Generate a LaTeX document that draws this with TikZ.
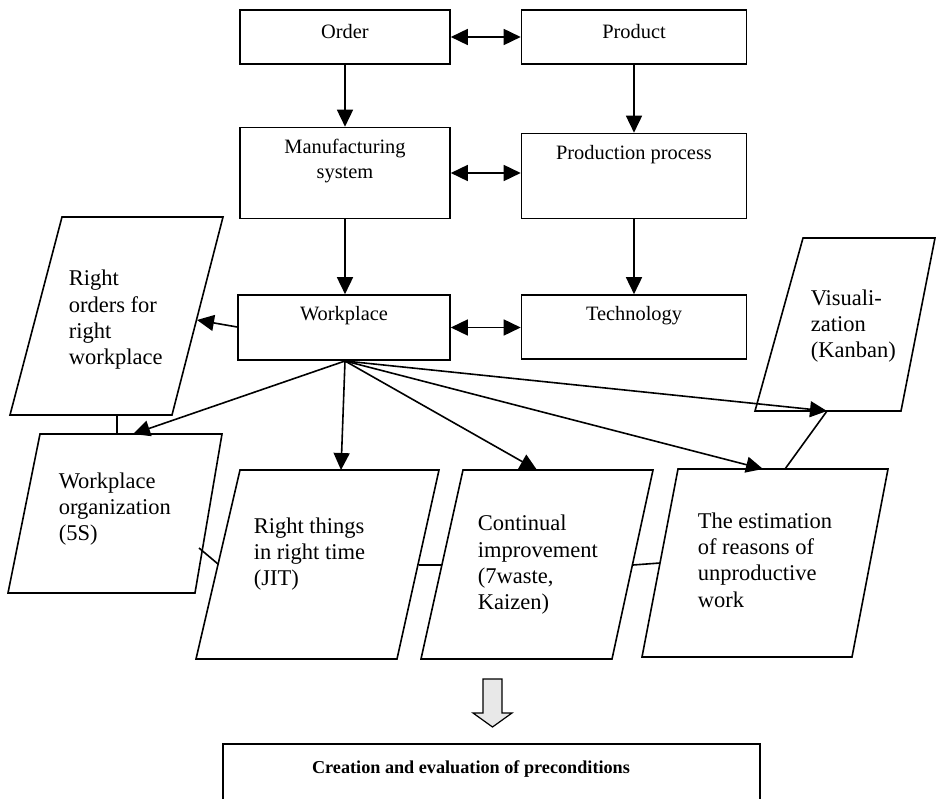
\documentclass[tikz,border=0pt]{standalone}
\usepackage{fontspec}
\setmainfont{Liberation Serif}
\usetikzlibrary{arrows.meta}
\newcommand\bxfont{\fontsize{20.4}{24.5}\selectfont}
\newcommand\pgfont{\fontsize{22.5}{26.3}\selectfont}
\newcommand\btfont{\fontsize{18.2}{22}\selectfont\bfseries}
\begin{document}
\begin{tikzpicture}[x=1pt,y=-1pt,
  line width=1.6pt,
  >={Triangle[length=17pt,width=16pt]},
  box/.style={draw, rectangle, inner sep=0pt},
  boxtxt/.style={inner sep=0pt, align=center, font=\bxfont},
  pgtxt/.style={inner sep=0pt, align=left, anchor=west, font=\pgfont},
  para/.style={draw, fill=white, line join=miter},
  link/.style={line width=1.6pt},
  arr/.style={->, line width=1.6pt}
]
\useasboundingbox (0,0) rectangle (936,799);
\clip (0,0) rectangle (936,799);

% ---- rectangle boxes
\node[box, minimum width=210pt, minimum height=54pt] (order) at (345,37) {};
\node[box, minimum width=225pt, minimum height=54pt] (product) at (634,37) {};
\node[box, minimum width=210pt, minimum height=91pt] (manuf) at (345,173) {};
\node[box, minimum width=225pt, minimum height=85pt] (prod) at (634,176) {};
\node[box, minimum width=212pt, minimum height=65pt] (work) at (344,327.5) {};
\node[box, minimum width=225pt, minimum height=64pt] (tech) at (634,327) {};

\node[boxtxt] (order-t) at (345,32) {Order};
\node[boxtxt] (product-t) at (634,32) {Product};
\node[boxtxt] (manuf-t) at (345,161) {Manufacturing\\system};
\node[boxtxt] (prod-t) at (634,155) {Production process};
\node[boxtxt] (work-t) at (344,316) {Workplace};
\node[boxtxt] (tech-t) at (634,316) {Technology};

% ---- arrows between boxes
\draw[arr, <->] (order.east) -- (order.east -| product.west);
\draw[arr, <->] (manuf.east) -- (manuf.east -| prod.west);
\draw[arr, <->] (work.east) -- (work.east -| tech.west);
\draw[arr] (order.south) -- (manuf.north);
\draw[arr] (product.south) -- (prod.north);
\draw[arr] (manuf.south) -- (manuf.south |- work.north);
\draw[arr] (prod.south) -- (tech.north);

% ---- parallelograms
\draw[para] (62,217) -- (223,217) -- (172,415) -- (10,415) -- cycle;
\draw[para] (40,434) -- (222,434) -- (195,593) -- (8,593) -- cycle;
\draw[para] (240,470) -- (439,470) -- (397,659) -- (196,659) -- cycle;
\draw[para] (463,470) -- (653,470) -- (612,659) -- (421,659) -- cycle;
\draw[para] (803,238) -- (935,238) -- (901,411) -- (755,411) -- cycle;
\draw[para] (678,469) -- (888,469) -- (852,657) -- (642,657) -- cycle;

\node[pgtxt] (ro-t) at (68,320) {Right\\orders for\\right\\workplace};
\node[pgtxt] (wo-txt) at (58,509) {Workplace\\organization\\(5S)};
\node[pgtxt] (jit-t) at (253,554) {Right things\\in right time\\(JIT)};
\node[pgtxt] (ci-t) at (477,565) {Continual\\improvement\\(7waste,\\Kaizen)};
\node[pgtxt] (vis-t) at (810,326) {Visuali-\\zation\\(Kanban)};
\node[pgtxt] (est-txt) at (697,560) {The estimation\\of reasons of\\unproductive\\work};

% ---- connection points on the parallelograms
\coordinate (fan) at (345,361);
\coordinate (ro-in) at (197,320);
\coordinate (wo-in) at (133,434);
\coordinate (jit-in) at (341,470);
\coordinate (ci-in) at (537,470);
\coordinate (est-in) at (763,469);
\coordinate (vis-in) at (827,411);
\coordinate (ro-b) at (117,415);
\coordinate (wo-t) at (117,434);
\coordinate (wo-r) at (199,548);
\coordinate (jit-l) at (218,564);
\coordinate (jit-r) at (419,565);
\coordinate (ci-l) at (441,565);
\coordinate (ci-r) at (633,565);
\coordinate (est-l) at (660,563);
\coordinate (vis-b) at (827,411);
\coordinate (est-t) at (785,469);

% ---- connectors
\draw[arr] (work.west |- ro-in) ++(0,7) -- (ro-in);
\draw[arr] (fan) -- (wo-in);
\draw[arr] (fan) -- (jit-in);
\draw[arr] (fan) -- (ci-in);
\draw[arr] (fan) -- (est-in);
\draw[arr] (fan) -- (vis-in);
\draw[link] (ro-b) -- (wo-t);
\draw[link] (wo-r) -- (jit-l);
\draw[link] (jit-r) -- (ci-l);
\draw[link] (ci-r) -- (est-l);
\draw[link] (vis-b) -- (est-t);

% ---- hollow arrow and result box
\draw[line width=1.2pt, fill=black!9, line join=miter] (483,679) -- (502,679) -- (502,713) -- (512,713) -- (492.5,727) -- (473,713) -- (483,713) -- cycle;
\node[box, minimum width=537pt, minimum height=90pt, anchor=north west] (creation) at (222,743) {};
\node[inner sep=0pt, font=\btfont] (creation-t) at (471,769) {Creation and evaluation of preconditions};
\end{tikzpicture}
\end{document}
